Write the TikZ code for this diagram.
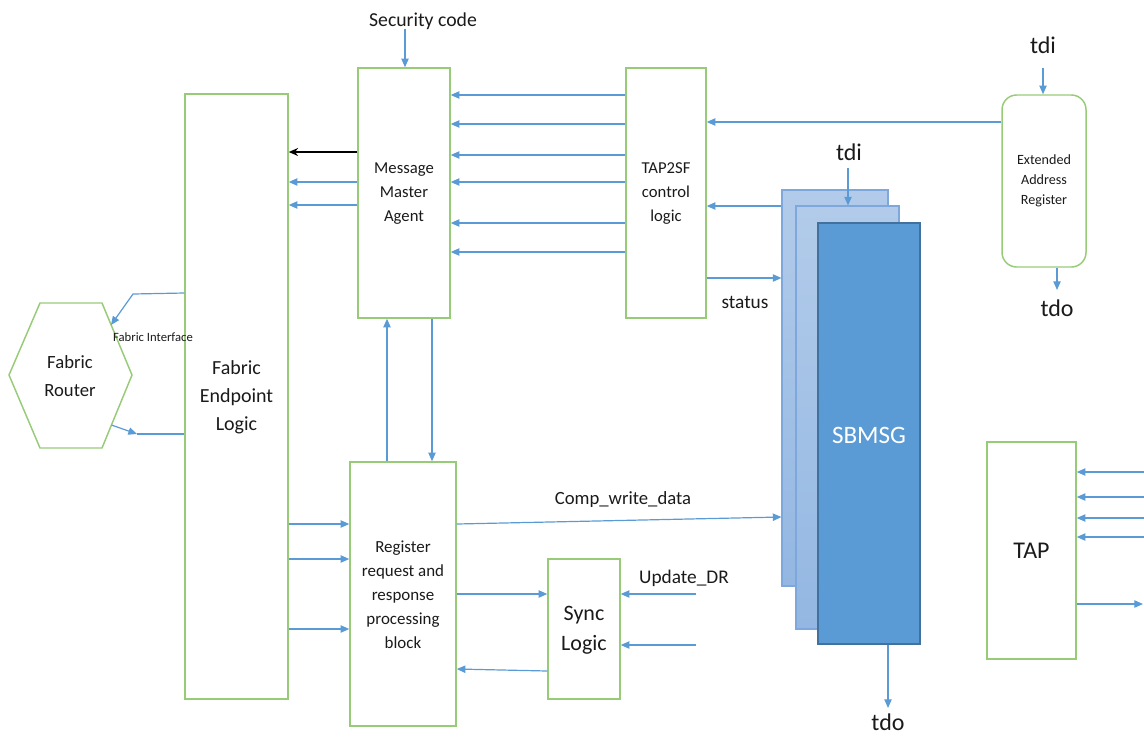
\documentclass[tikz,border=0pt]{standalone}
\usepackage{fontspec}
\setmainfont{Carlito}
\usetikzlibrary{arrows.meta,fit}
\definecolor{gline}{HTML}{98CB78}
\definecolor{bline}{HTML}{5B9BD5}
\definecolor{txt}{HTML}{1A1A1A}
\definecolor{sblightT}{HTML}{B2CBEA}
\definecolor{sblightB}{HTML}{93B7E2}
\definecolor{sbedge}{HTML}{7EA8DB}
\definecolor{sbfront}{HTML}{5B9BD5}
\definecolor{sbfrontedge}{HTML}{41719C}
\begin{document}
\begin{tikzpicture}[x=0.75pt,y=-0.75pt,
  gbox/.style={draw=gline, line width=1.1pt, inner sep=0pt},
  barrow/.style={draw=bline, line width=0.9pt, -{Triangle[length=6.5pt,width=5.5pt]}},
  bplain/.style={draw=bline, line width=0.9pt},
  karrow/.style={draw=black, line width=1.6pt, -{Stealth[length=7pt,width=6pt]}},
  lbl/.style={inner sep=0pt, text=txt, align=center},
  sblayer/.style={draw=sbedge, line width=0.8pt, top color=sblightT, bottom color=sblightB, inner sep=0pt},
]
\useasboundingbox (0,0) rectangle (1144,736);

% ---- main blocks ----
\node[gbox, fit={(185,94)(288,699)}] (fel) {};
\node[lbl, font=\fontsize{15}{21}\selectfont] (felT) at ([yshift=-0.75pt]fel.center) {Fabric\\Endpoint\\Logic};
\node[gbox, fit={(358,68)(450,318)}] (mma) {};
\node[lbl, font=\fontsize{12.5}{18}\selectfont] (mmaT) at ([yshift=-0.75pt]mma.center) {Message\\Master\\Agent};
\node[gbox, fit={(626,68)(706,318)}] (tap2sf) {};
\node[lbl, font=\fontsize{12.5}{18}\selectfont] (tap2sfT) at ([yshift=-0.75pt]tap2sf.center) {TAP2SF\\control\\logic};
\node[gbox, fit={(350,462)(456,726)}] (rrb) {};
\node[lbl, font=\fontsize{12.7}{18}\selectfont] (rrbT) at ([yshift=-0.75pt]rrb.center) {Register\\request and\\response\\processing\\block};
\node[gbox, fit={(548,559)(620,699)}] (sync) {};
\node[lbl, font=\fontsize{16.5}{22.5}\selectfont] (syncT) at ([yshift=-0.75pt]sync.center) {Sync\\Logic};
\node[gbox, fit={(987,442)(1076,659)}] (tap) {};
\node[lbl, font=\fontsize{18}{22}\selectfont] (tapT) at (tap.center) {TAP};
\node[gbox, rounded corners=11pt, fit={(1002,95)(1086,267)}] (ear) {};
\node[lbl, font=\fontsize{10.6}{15}\selectfont] (earT) at (ear.center) {Extended\\Address\\Register};

% ---- SBMSG stack ----
\node[sblayer, fit={(782,190)(888,586)}] (sb1) {};
\node[sblayer, fit={(796,206)(899,629)}] (sb2) {};
\node[draw=sbfrontedge, line width=0.8pt, fill=sbfront, inner sep=0pt,
      fit={(818,223)(920,644)}] (sb3) {};
\node[lbl, text=white, font=\fontsize{18.8}{22}\selectfont] (sb3T) at ([yshift=-1.5pt]sb3.center) {SBMSG};

% ---- fabric router ----
\coordinate (h1) at (40,303);
\coordinate (h2) at (102,303);
\coordinate (h3) at (132,375);
\coordinate (h4) at (102,448);
\coordinate (h5) at (40,448);
\coordinate (h6) at (9,375);
\draw[draw=gline, line width=1.1pt] (h1) -- (h2) -- (h3) -- (h4) -- (h5) -- (h6) -- cycle;
\node[lbl, font=\fontsize{14}{21}\selectfont] (router) at (70,376) {Fabric\\Router};

% fabric interface
\coordinate (fiA) at (133,294);
\coordinate (fiB) at (111,325);
\draw[barrow] (fel.west |- 0,293) -- (fiA) -- (fiB);
\node[lbl, font=\fontsize{9.5}{11}\selectfont] (fitext) at (153,337) {Fabric Interface};
\coordinate (fiC) at (111.5,425);
\coordinate (fiD) at (137,434);
\draw[barrow] (fiC) -- (fiD);
\draw[bplain] (fiD) -- (fel.west |- fiD);

% ---- message master agent to fabric endpoint ----
\draw[karrow] (mma.west |- 0,152) -- (fel.east |- 0,152);
\draw[barrow] (mma.west |- 0,182) -- (fel.east |- 0,182);
\draw[barrow] (mma.west |- 0,205) -- (fel.east |- 0,205);

% TAP2SF control logic to message master agent
\foreach \yy in {95,124,155,182,223,252}
  \draw[barrow] (tap2sf.west |- 0,\yy) -- (mma.east |- 0,\yy);

% security code
\node[lbl, font=\fontsize{14.8}{17}\selectfont] (sec) at (423,21) {Security code};
\coordinate (secA) at (405,29);
\draw[barrow] (secA) -- (mma.north -| secA);

% message master agent <-> register block
\draw[barrow] (mma.south -| 432,0) -- (rrb.north -| 432,0);
\draw[barrow] (rrb.north -| 387,0) -- (mma.south -| 387,0);

% fabric endpoint to register block
\foreach \yy in {524,559,629}
  \draw[barrow] (fel.east |- 0,\yy) -- (rrb.west |- 0,\yy);

% register block to SBMSG
\draw[barrow] (rrb.east |- 0,524) -- (sb1.west |- 0,517);
\node[lbl, font=\fontsize{14}{17}\selectfont] (cwd) at (623,500) {Comp\_write\_data};

% register block <-> sync logic
\draw[barrow] (rrb.east |- 0,594) -- (sync.west |- 0,594);
\draw[barrow] (sync.west |- 0,671) -- (rrb.east |- 0,669);

% inputs of sync logic
\coordinate (upA) at (696,594);
\coordinate (upB) at (696,645);
\draw[barrow] (upA) -- (sync.east |- upA);
\draw[barrow] (upB) -- (sync.east |- upB);
\node[lbl, font=\fontsize{14.5}{17}\selectfont] (updr) at (684,578) {Update\_DR};

% extended address register / SBMSG to TAP2SF
\draw[barrow] (ear.west |- 0,122) -- (tap2sf.east |- 0,122);
\draw[barrow] (sb1.west |- 0,206) -- (tap2sf.east |- 0,206);
\draw[barrow] (tap2sf.east |- 0,278) -- (sb1.west |- 0,278);
\node[lbl, font=\fontsize{14.5}{17}\selectfont] (status) at (745,302) {status};

% SBMSG tdi / tdo
\node[lbl, font=\fontsize{18}{20}\selectfont] (tdiS) at (849,152) {tdi};
\coordinate (tdiSA) at (848,168);
\draw[barrow] (tdiSA) -- (sb2.north -| tdiSA);
\coordinate (tdoSA) at (888,708);
\draw[barrow] (sb3.south -| tdoSA) -- (tdoSA);
\node[lbl, font=\fontsize{18}{20}\selectfont] (tdoS) at (888,722) {tdo};

% extended address register tdi / tdo
\node[lbl, font=\fontsize{18}{20}\selectfont] (tdiE) at (1043,45) {tdi};
\coordinate (tdiEA) at (1043,68);
\draw[barrow] (tdiEA) -- (ear.north -| tdiEA);
\coordinate (tdoEA) at (1057,290);
\draw[barrow] (ear.south -| tdoEA) -- (tdoEA);
\node[lbl, font=\fontsize{18}{20}\selectfont] (tdoE) at (1057,308) {tdo};

% TAP ports
\foreach \yy [count=\i] in {472,497,518,537} {
  \coordinate (tin\i) at (1144,\yy);
  \draw[barrow] (tin\i) -- (tap.east |- tin\i);
}
\coordinate (tout) at (1143,604);
\draw[barrow] (tap.east |- tout) -- (tout);
\end{tikzpicture}
\end{document}
